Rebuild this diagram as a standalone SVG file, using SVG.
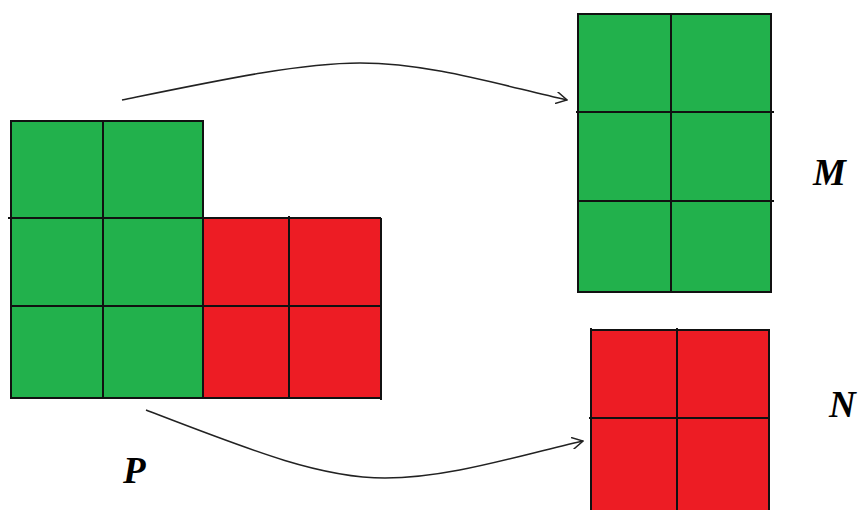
<svg xmlns="http://www.w3.org/2000/svg" width="865" height="510" viewBox="0 0 865 510">
<style>
.g{fill:#22B14C}
.r{fill:#ED1C24}
.ln{stroke:#111;stroke-width:2;fill:none}
.cn{stroke:#222;stroke-width:1.5;fill:none}
.lb{font-family:"Liberation Serif",serif;font-weight:bold;font-style:italic;font-size:37px;fill:#000}
</style>
<defs>
<marker id="ah" viewBox="0 0 12 12" refX="11" refY="6" markerWidth="12" markerHeight="12" markerUnits="userSpaceOnUse" orient="auto">
<path d="M0,0 L11,6 L0,12" fill="none" stroke="#222" stroke-width="1.5"/>
</marker>
</defs>
<rect width="865" height="510" fill="#fff"/>
<g id="P">
<rect class="g" x="11" y="121" width="192" height="277"/>
<rect class="r" x="203" y="218" width="178" height="180"/>
<path class="ln" d="M11,121 H203 V398 H11 Z M103,121 V398 M8,218 H381 M11,306 H381 M203,218 V398 M289,216 V398 M381,218 V400 M203,398 H381"/>
<text class="lb" x="123" y="483">P</text>
</g>
<g id="M">
<rect class="g" x="578" y="14" width="193" height="278"/>
<path class="ln" d="M578,14 H771 V292 H578 Z M671,14 V292 M576,112 H774 M578,201 H774"/>
<text class="lb" x="813" y="185">M</text>
</g>
<g id="N">
<rect class="r" x="591" y="330" width="178" height="185"/>
<path class="ln" d="M591,330 H769 V515 M591,328 V515 M677,328 V515 M589,418 H769"/>
<text class="lb" x="829" y="417">N</text>
</g>
<g id="connectors">
<path class="cn" marker-end="url(#ah)" d="M122,100 C220,80 300,63 360,63 C430,63 500,85 567,100"/>
<path class="cn" marker-end="url(#ah)" d="M146,410 C250,450 320,478 385,478 C450,478 520,455 583,441"/>
</g>
</svg>
